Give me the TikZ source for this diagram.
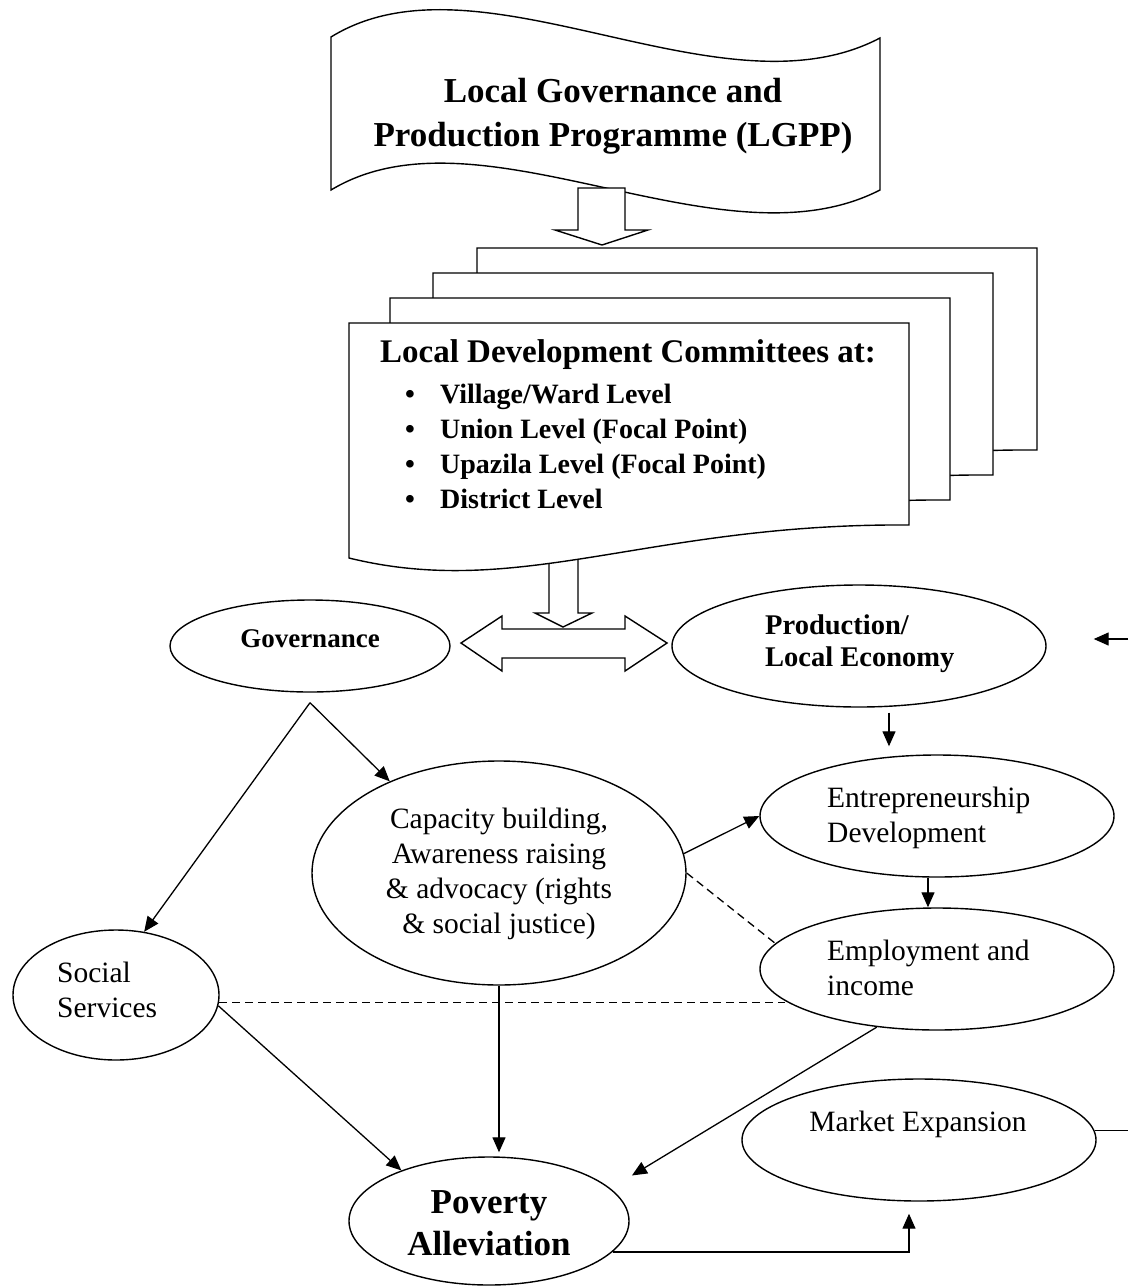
\documentclass[tikz,border=0pt]{standalone}
\usepackage{fontspec}
\setmainfont{Liberation Serif}
\usetikzlibrary{arrows.meta,shapes.geometric,calc}
\newcommand\FontTitle{\fontsize{35}{44}\selectfont\bfseries}
\newcommand\FontHead{\fontsize{33}{40}\selectfont\bfseries}
\newcommand\FontItem{\fontsize{28}{35}\selectfont\bfseries}
\newcommand\FontGov{\fontsize{27}{32}\selectfont\bfseries}
\newcommand\FontProd{\fontsize{28.5}{32}\selectfont\bfseries}
\newcommand\FontReg{\fontsize{29.5}{35}\selectfont}
\newcommand\FontPov{\fontsize{35}{42}\selectfont\bfseries}
\begin{document}
\begin{tikzpicture}[x=1pt,y=-1pt,
  ell/.style={draw,ellipse,line width=1.4pt,inner sep=0pt,fill=white},
  shp/.style={draw,line width=1.4pt,fill=white,line join=miter},
  conn/.style={line width=1.3pt},
  arr/.style={conn,-{Triangle[length=15pt,width=13pt]}},
  dsh/.style={conn,dash pattern=on 8pt off 5pt},
  txt/.style={inner sep=0pt,align=center}]
\fill[white] (0,0) rectangle (1128,1286);
\useasboundingbox (0,0) rectangle (1128,1286);

% banner
\draw[shp] (331,37) .. controls (480,-55) and (720,122) .. (880,38) -- (880,190)
  .. controls (720,272) and (480,100) .. (331,190) -- cycle;
\node[txt,font=\FontTitle,anchor=base] (lgpp) at (613,146) {Local Governance and\\Production Programme (LGPP)};
% block arrow 1
\draw[shp] (578,188) -- (625,188) -- (625,230) -- (648,230) -- (602,245) -- (555,230) -- (578,230) -- cycle;
% block arrow 2 (behind stack)
\draw[shp] (549,555) -- (578,555) -- (578,613) -- (592,613) -- (563,627) -- (535,613) -- (549,613) -- cycle;
% stacked documents
\foreach \dx/\dy in {477/248, 433/273, 390/298, 349/323}{
  \draw[shp,shift={(\dx,\dy)}] (0,0) -- (560,0) -- (560,202)
    .. controls (300,200) and (171,277) .. (0,235) -- cycle;
}
\node[txt,font=\FontHead,anchor=base] (ldc) at (628,362) {Local Development Committees at:};
\node[txt,font=\FontItem,align=left,anchor=base west] (levels) at (405,508)
  {\makebox[35pt][l]{•}Village/Ward Level\\
   \makebox[35pt][l]{•}Union Level (Focal Point)\\
   \makebox[35pt][l]{•}Upazila Level (Focal Point)\\
   \makebox[35pt][l]{•}District Level};
% double block arrow
\draw[shp] (461,643) -- (502,616) -- (502,629) -- (625,629) -- (625,616) -- (667,643)
  -- (625,671) -- (625,658) -- (502,658) -- (502,671) -- cycle;

% ellipses
\node[ell,minimum width=280pt,minimum height=92pt] (gov) at (310,646) {};
\node[ell,minimum width=374pt,minimum height=122pt] (prod) at (859,646) {};
\node[ell,minimum width=354pt,minimum height=122pt] (entre) at (937,816) {};
\node[ell,minimum width=354pt,minimum height=122pt] (emp) at (937,969) {};
\node[ell,minimum width=374pt,minimum height=224pt] (cap) at (499,873) {};
\node[ell,minimum width=206pt,minimum height=130pt] (soc) at (116,995) {};
\node[ell,minimum width=280pt,minimum height=128pt] (pov) at (489,1221) {};
\node[ell,minimum width=354pt,minimum height=122pt] (mkt) at (919,1140) {};

% texts (multi-line nodes: base = last line)
\node[txt,font=\FontGov,anchor=base] (govT) at (310,647) {Governance};
\node[txt,font=\FontProd,align=left,anchor=base west] (prodT) at (765,666) {Production/\\Local Economy};
\node[txt,font=\FontReg,align=left,anchor=base west] (entreT) at (827,842) {Entrepreneurship\\Development};
\node[txt,font=\FontReg,align=left,anchor=base west] (empT) at (827,995) {Employment and\\income};
\node[txt,font=\FontReg,anchor=base] (capT) at (499,933) {Capacity building,\\Awareness raising\\\& advocacy (rights\\\& social justice)};
\node[txt,font=\FontReg,align=left,anchor=base west] (socT) at (57,1017) {Social\\Services};
\node[txt,font=\FontPov,anchor=base] (povT) at (489,1255) {Poverty\\Alleviation};
\node[txt,font=\FontReg,anchor=base] (mktT) at (918,1131) {Market Expansion};

% connectors
\coordinate (apex) at ([yshift=-10pt]gov.south);
\draw[arr] (apex) -- (soc.66);
\draw[arr] (apex) -- (cap.140);
\draw[arr] (cap.6) -- (entre.west);
\draw[dsh] (cap.east) -- (emp.171);
\draw[dsh] (soc.-4) -- (soc.-4 -| emp.192);
\draw[arr,shorten >=4pt] (cap.south) -- (cap.south |- pov.north);
\draw[arr] (soc.-6) -- (pov.150);
\draw[arr,shorten >=25pt] (emp.224) -- (pov.15.5);
\draw[arr,shorten <=5pt,shorten >=8pt] ([xshift=30pt]prod.south) -- ([xshift=30pt]prod.south |- entre.north);
\draw[arr] ([xshift=-9pt]entre.south) -- ([xshift=-9pt]entre.south |- emp.north);
\draw[arr,shorten >=12pt] (pov.-14) -| ([xshift=-10pt]mkt.south);
\coordinate (outR1) at (1128,1129);
\draw[conn] (mkt.3.6) -- (mkt.3.6 -| outR1);
\coordinate (outR2) at (1128,639);
\draw[arr,shorten >=47pt] (outR2) -- (outR2 -| prod.east);
\end{tikzpicture}
\end{document}
